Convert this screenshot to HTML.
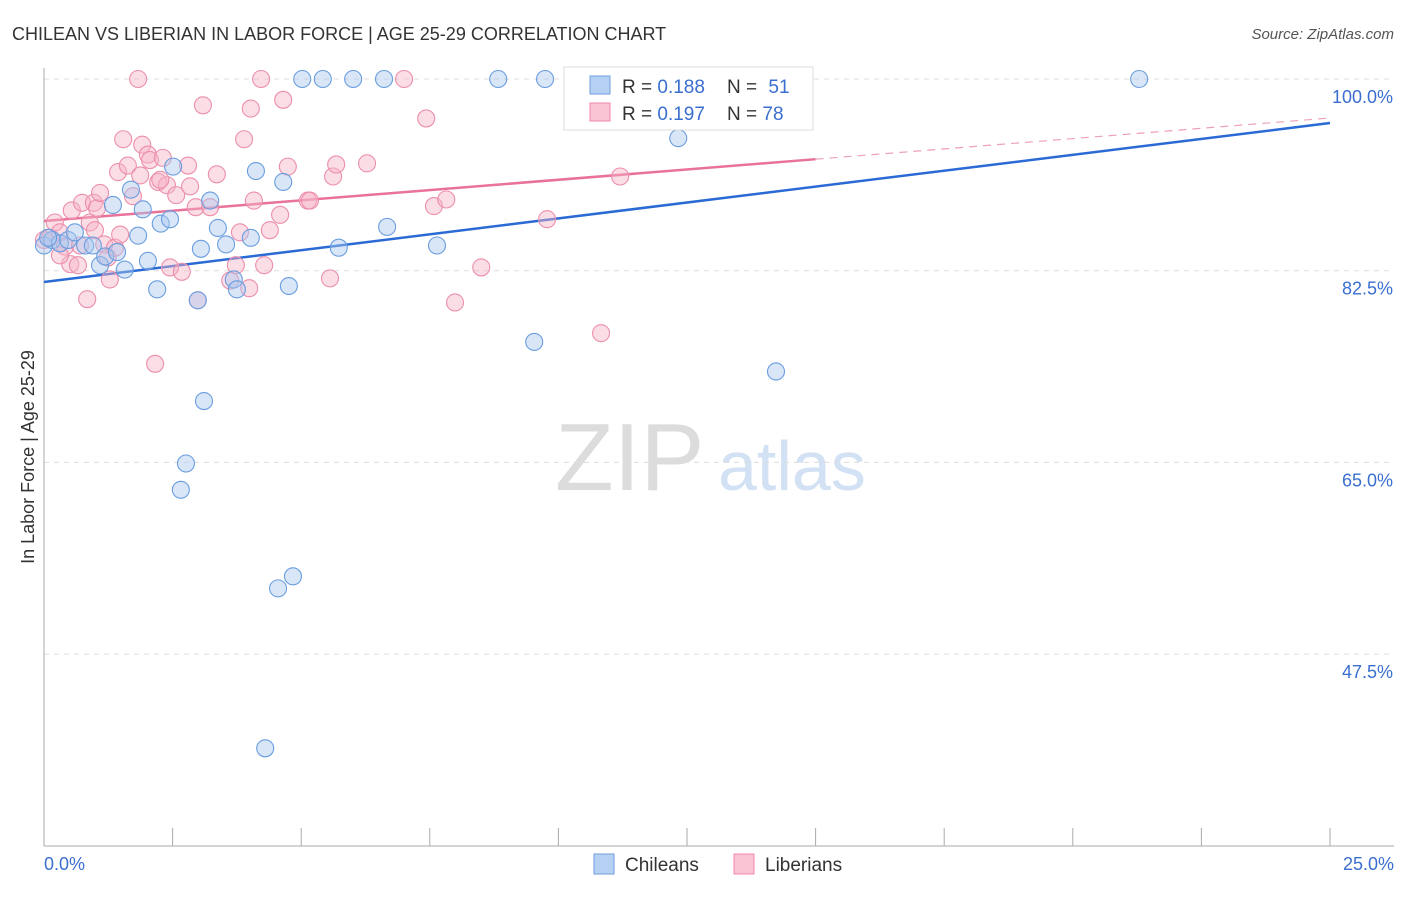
<!DOCTYPE html>
<html><head><meta charset="utf-8"><style>
body{margin:0;background:#fff;font-family:"Liberation Sans",sans-serif}
svg text{font-family:"Liberation Sans",sans-serif}
</style></head><body>
<svg id="c" width="1406" height="892" viewBox="0 0 1406 892">
<text x="12" y="40" font-size="18" fill="#333">CHILEAN VS LIBERIAN IN LABOR FORCE | AGE 25-29 CORRELATION CHART</text>
<text x="1394" y="39" font-size="15" fill="#555" text-anchor="end" font-style="italic">Source: ZipAtlas.com</text>
<text transform="translate(34,457) rotate(-90)" font-size="18" fill="#333" text-anchor="middle">In Labor Force | Age 25-29</text>
<text x="555" y="490" font-size="96" fill="#dcdcdc" font-family="Liberation Serif">ZIP</text>
<text x="718" y="490" font-size="70" fill="#d3e1f4">atlas</text>
<g id="grid"></g><g id="axes"></g><g id="lines"></g><g id="pts"></g>
<g>
<rect x="564" y="67" width="249" height="63" fill="#fff" stroke="#ddd"/>
<rect x="590" y="76" width="20" height="18" fill="#b6d0f3" stroke="#6d9fe0"/>
<text x="622" y="93" font-size="19" fill="#333">R = <tspan fill="#3a6fd0">0.188</tspan></text>
<text x="727" y="93" font-size="19" fill="#333">N = <tspan fill="#3a6fd0" dx="6">51</tspan></text>
<rect x="590" y="103" width="20" height="18" fill="#f9c3d3" stroke="#ef8aa9"/>
<text x="622" y="120" font-size="19" fill="#333">R = <tspan fill="#3a6fd0">0.197</tspan></text>
<text x="727" y="120" font-size="19" fill="#333">N = <tspan fill="#3a6fd0">78</tspan></text>
</g>
<g>
<rect x="594" y="854" width="20" height="20" fill="#b6d0f3" stroke="#6d9fe0"/>
<text x="625" y="871" font-size="19" fill="#333">Chileans</text>
<rect x="734" y="854" width="20" height="20" fill="#f9c3d3" stroke="#ef8aa9"/>
<text x="765" y="871" font-size="19" fill="#333">Liberians</text>
</g>
</svg>
<script>
const blueX=[0,0.16,0.31,0.47,0.6,0.8,0.95,1.09,1.19,1.34,1.42,1.57,1.69,1.83,1.92,2.02,2.2,2.27,2.45,2.51,2.99,3.05,3.11,3.23,3.38,3.54,3.69,3.75,4.02,4.12,4.3,4.55,4.65,4.76,4.84,5.02,5.42,5.73,6.01,6.61,6.67,7.64,8.83,9.53,9.74,12.33,14.23,21.29,2.76,2.66,0.08];
const blueY=[84.8,85.3,85,85.3,86,84.8,84.8,83,83.8,88.5,84.2,82.6,89.9,85.7,88.1,83.4,80.8,86.8,87.2,92,79.8,84.5,70.6,88.9,86.4,84.9,81.7,80.8,85.5,91.6,38.9,53.5,90.6,81.1,54.6,100,100,84.6,100,100,86.5,84.8,100,76,100,94.6,73.3,100,64.9,62.5,85.5];
const pinkX=[0,0.12,0.21,0.31,0.41,0.51,0.54,0.66,0.74,0.84,0.89,0.97,1.03,1.09,1.17,1.24,1.28,1.38,1.44,1.48,1.54,1.63,1.73,1.83,1.87,1.91,2.02,2.06,2.16,2.22,2.31,2.39,2.45,2.57,2.68,2.8,2.84,2.95,2.99,3.09,3.23,3.36,3.62,3.73,3.81,3.89,3.99,4.02,4.08,4.22,4.28,4.39,4.59,4.65,4.74,5.13,5.17,5.56,5.62,5.68,6.28,7,7.43,7.58,7.82,7.99,8.5,9.78,10.83,11.2,13.2,0.31,0.7,0.99,2.26];
const pinkY=[85.3,85.5,86.9,86,84.7,83.1,88,83,88.7,79.9,86.9,88.7,88.2,89.6,84.9,83.7,81.7,84.6,91.5,85.8,94.5,92.1,89.3,100,91.2,94,93.1,92.6,74,90.6,92.8,90.3,82.8,89.4,82.4,92.1,90.2,88.3,79.8,97.6,88.3,91.3,81.6,83,86,94.5,80.9,97.3,88.9,100,83,86.2,87.6,98.1,92,88.9,88.9,81.8,91.1,92.2,92.3,100,96.4,88.4,89,79.6,82.8,87.2,76.8,91.1,100,83.9,84.8,86.2,90.8];
const yTicks=[100,82.5,65,47.5];
const yTickLabels=["100.0%","82.5%","65.0%","47.5%"];
const xTicks=[0,2.5,5,7.5,10,12.5,15,17.5,20,22.5,25];
const blueTrend=[81.47,95.98];
const pinkTrend=[87.04,96.44];
const pinkSolidEnd=15;
const NS="http://www.w3.org/2000/svg";
const X=v=>44+v/25*1286, Y=v=>79+(100-v)/17.5*191.7;
function mk(t,a,p){const e=document.createElementNS(NS,t);for(const k in a)e.setAttribute(k,a[k]);document.getElementById(p).appendChild(e);return e;}
yTicks.forEach((t,i)=>{
 const g=mk('line',{x1:44,x2:1394,y1:Y(t),y2:Y(t),stroke:'#ddd','stroke-dasharray':'5,5'},'grid');
 
 
 const l=mk('text',{x:1393,y:Y(t)+24,'font-size':18,fill:'#3a6fd0','text-anchor':'end'},'grid');l.textContent=yTickLabels[i];
 
 
});
const ax=mk('line',{x1:44,x2:44,y1:68,y2:846,stroke:'#aaa'},'axes');


const bx=mk('line',{x1:44,x2:1394,y1:846,y2:846,stroke:'#aaa'},'axes');


xTicks.forEach(t=>{const e=mk('line',{x1:X(t),x2:X(t),y1:828,y2:846,stroke:'#aaa'},'axes');
 
 });
const t0=mk('text',{x:44,y:870,'font-size':18,fill:'#3a6fd0'},'axes');t0.textContent='0.0%';


const t1=mk('text',{x:1394,y:870,'font-size':18,fill:'#3a6fd0','text-anchor':'end'},'axes');t1.textContent='25.0%';


function dots(xs,ys,fill,stroke,name){xs.forEach((x,i)=>{const c=mk('circle',{cx:X(x),cy:Y(ys[i]),r:8.5,fill:fill,'fill-opacity':0.45,stroke:stroke,'stroke-width':1.1},'pts');
 
 });}
dots(pinkX,pinkY,'#f7b3c7','#ec8fab','liberian-point');
dots(blueX,blueY,'#a9c8f0','#6a9ddf','chilean-point');
const bl=mk('line',{x1:X(0),y1:Y(blueTrend[0]),x2:X(25),y2:Y(blueTrend[1]),stroke:'#2a6ad4','stroke-width':2.5},'lines');


const pe=pinkTrend[0]+(pinkTrend[1]-pinkTrend[0])*pinkSolidEnd/25;
const pl=mk('line',{x1:X(0),y1:Y(pinkTrend[0]),x2:X(pinkSolidEnd),y2:Y(pe),stroke:'#e8729a','stroke-width':2.5},'lines');


const pd=mk('line',{x1:X(pinkSolidEnd),y1:Y(pe),x2:X(25),y2:Y(pinkTrend[1]),stroke:'#eda0b8','stroke-width':1.2,'stroke-dasharray':'8,6'},'lines');


</script>
</body></html>
